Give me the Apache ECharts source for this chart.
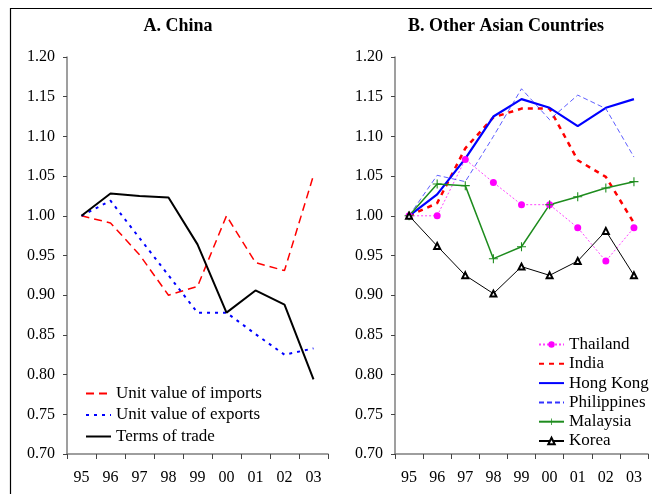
<!DOCTYPE html>
<html>
<head>
<meta charset="utf-8">
<script src="https://cdn.jsdelivr.net/npm/echarts@6/dist/echarts.min.js"></script>
<style>html,body{margin:0;padding:0;background:#fff;}#c{width:652px;height:494px;}</style>
</head>
<body>
<div id="c"></div>
<script>
const years = ['95','96','97','98','99','00','01','02','03'];
// Panel A: China
const chinaImports = [1.000, 0.991, 0.951, 0.900, 0.911, 1.000, 0.941, 0.931, 1.051];
const chinaExports = [1.000, 1.019, 0.972, 0.925, 0.878, 0.878, 0.851, 0.825, 0.833];
const chinaTerms   = [1.000, 1.028, 1.025, 1.023, 0.964, 0.878, 0.906, 0.888, 0.794];
// Panel B: Other Asian countries
const thailand    = [1.000, 1.000, 1.071, 1.042, 1.014, 1.014, 0.985, 0.943, 0.985];
const india       = [1.000, 1.016, 1.085, 1.124, 1.135, 1.135, 1.070, 1.049, 0.991];
const hongKong    = [1.000, 1.027, 1.072, 1.125, 1.147, 1.136, 1.113, 1.136, 1.147];
const philippines = [1.000, 1.051, 1.043, 1.100, 1.160, 1.121, 1.152, 1.135, 1.074];
const malaysia    = [1.000, 1.040, 1.038, 0.946, 0.961, 1.014, 1.024, 1.035, 1.043];
const korea       = [1.000, 0.962, 0.925, 0.902, 0.936, 0.925, 0.943, 0.981, 0.925];

const FONT = '"Liberation Serif", "DejaVu Serif", serif';
const plusPath = 'path://M4.4,0h1.2v4.4h4.4v1.2h-4.4v4.4h-1.2v-4.4h-4.4v-1.2h4.4z';
const hidden = {color:'rgba(0,0,0,0)', borderWidth:0, borderColor:'rgba(0,0,0,0)'};

function yAxis(idx){
  return {
    type:'value', gridIndex:idx, min:0.70, max:1.20, interval:0.05,
    axisLine:{show:true, lineStyle:{color:'#7f7f7f', width:1.5}},
    axisTick:{show:true, length:4, lineStyle:{color:'#444', width:1}},
    splitLine:{show:false},
    axisLabel:{formatter:v=>v.toFixed(2), color:'#000', fontFamily:FONT, fontSize:16, margin:12}
  };
}
function xAxis(idx){
  return {
    type:'category', gridIndex:idx, data:years, boundaryGap:true,
    axisLine:{show:true, lineStyle:{color:'#7f7f7f', width:1.5}},
    axisTick:{show:true, length:5, interval:0, lineStyle:{color:'#444', width:1}},
    axisLabel:{color:'#000', fontFamily:FONT, fontSize:16, margin:16, interval:0},
    splitLine:{show:false}
  };
}

const chart = echarts.init(document.getElementById('c'), null, {renderer:'canvas'});
chart.setOption({
  animation:false,
  backgroundColor:'#fff',
  title:[
    {text:'A. China', left:173, top:12, textAlign:'center',
     textStyle:{fontFamily:FONT, fontWeight:'bold', fontSize:18, color:'#000'}},
    {text:'B. Other Asian Countries', left:501, top:12, textAlign:'center',
     textStyle:{fontFamily:FONT, fontWeight:'bold', fontSize:18, color:'#000'}}
  ],
  graphic:[
    {type:'polyline', silent:true, shape:{points:[[10.5,494],[10.5,8.5],[652,8.5]]},
     style:{stroke:'#000', lineWidth:1.2, fill:null}}
  ],
  grid:[
    {left:67, top:57, width:261, height:397},
    {left:395, top:57, width:253, height:397}
  ],
  xAxis:[xAxis(0), xAxis(1)],
  yAxis:[yAxis(0), yAxis(1)],
  legend:[
    {orient:'vertical', left:80, top:380, itemWidth:25, itemHeight:14, itemGap:4.5,
     textStyle:{fontFamily:FONT, fontSize:17, color:'#000', lineHeight:17},
     data:[{name:'Unit value of imports', itemStyle:hidden},
           {name:'Unit value of exports', itemStyle:hidden},
           {name:'Terms of trade', itemStyle:hidden}]},
    {orient:'vertical', left:533, top:331, itemWidth:25, itemHeight:8, itemGap:2.3,
     textStyle:{fontFamily:FONT, fontSize:17, color:'#000', lineHeight:17},
     data:['Thailand',
           {name:'India', itemStyle:hidden},
           {name:'Hong Kong', itemStyle:hidden},
           {name:'Philippines', itemStyle:hidden},
           'Malaysia','Korea']}
  ],
  series:[
    {name:'Unit value of imports', type:'line', xAxisIndex:0, yAxisIndex:0, data:chinaImports,
     symbol:'none', color:'#ff0000', lineStyle:{color:'#ff0000', width:1.5, type:[8,5]}},
    {name:'Unit value of exports', type:'line', xAxisIndex:0, yAxisIndex:0, data:chinaExports,
     symbol:'none', color:'#0000ff', lineStyle:{color:'#0000ff', width:2, type:[3,5]}},
    {name:'Terms of trade', type:'line', xAxisIndex:0, yAxisIndex:0, data:chinaTerms,
     symbol:'none', color:'#000', lineStyle:{color:'#000', width:2}},

    {name:'Thailand', type:'line', xAxisIndex:1, yAxisIndex:1, data:thailand,
     symbol:'circle', symbolSize:7, showAllSymbol:true, color:'#ff00ff',
     itemStyle:{color:'#ff00ff'}, lineStyle:{color:'#ff44ff', width:1, type:[2,2]}},
    {name:'India', type:'line', xAxisIndex:1, yAxisIndex:1, data:india,
     symbol:'none', color:'#ff0000', lineStyle:{color:'#ff0000', width:2.5, type:[5,5]}},
    {name:'Hong Kong', type:'line', xAxisIndex:1, yAxisIndex:1, data:hongKong,
     symbol:'none', color:'#0000ff', lineStyle:{color:'#0000ff', width:2.2}},
    {name:'Philippines', type:'line', xAxisIndex:1, yAxisIndex:1, data:philippines,
     symbol:'none', color:'#3333ff', lineStyle:{color:'#3333ff', width:0.8, type:[5,3]}},
    {name:'Malaysia', type:'line', xAxisIndex:1, yAxisIndex:1, data:malaysia,
     symbol:plusPath, symbolSize:9, showAllSymbol:true, color:'#1e8c1e',
     itemStyle:{color:'#1e8c1e'}, lineStyle:{color:'#1e8c1e', width:1.5}},
    {name:'Korea', type:'line', xAxisIndex:1, yAxisIndex:1, data:korea,
     symbol:'emptyTriangle', symbolSize:6, showAllSymbol:true, color:'#000',
     itemStyle:{color:'#000', borderColor:'#000', borderWidth:1}, lineStyle:{color:'#000', width:1}}
  ]
});
</script>
</body>
</html>
